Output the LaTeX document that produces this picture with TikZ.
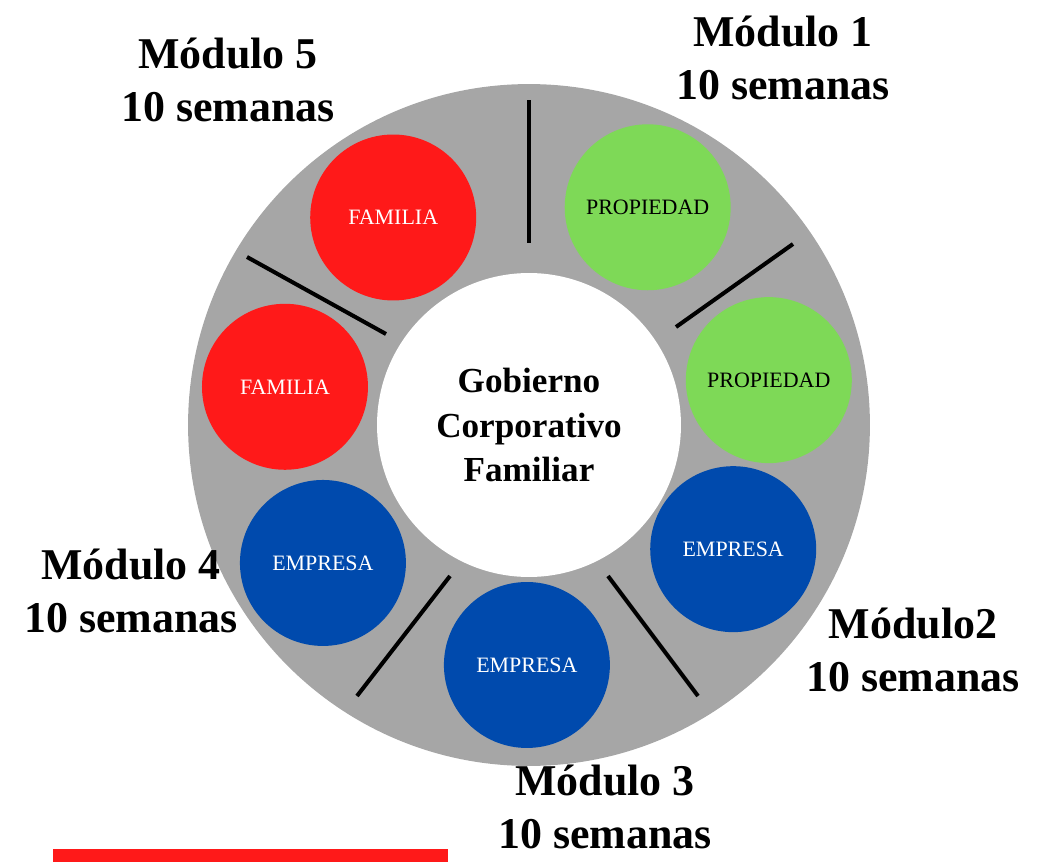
\documentclass[tikz,border=0pt]{standalone}
\usepackage{fontspec}
\setmainfont{Liberation Serif}
\usepackage{tikz}
\usetikzlibrary{positioning}
\usepackage{xcolor}

\definecolor{gris}{RGB}{166,166,166}
\definecolor{rojo}{RGB}{255,25,25}
\definecolor{verde}{RGB}{126,217,87}
\definecolor{azul}{RGB}{0,74,173}

\begin{document}
\begin{tikzpicture}[x=0.02cm,y=0.02cm,
 % circles of the ring
 modulo/.style={circle,minimum size=3.32cm,inner sep=0pt,font=\fontsize{12.5}{14}\selectfont},
 propiedad/.style={modulo,fill=verde,text=black},
 empresa/.style={modulo,fill=azul,text=white},
 familia/.style={modulo,fill=rojo,text=white},
 % module titles
 titulo/.style={align=center,inner sep=0pt,font=\bfseries\fontsize{25}{30}\selectfont},
 divisor/.style={line width=2.3pt,black}]

 % picture frame, same size as the reference
 \useasboundingbox (-529,-437) rectangle (515,425);

 % Gray ring and white centre
 \node[circle,fill=gris,minimum size=13.64cm,inner sep=0pt] (anillo) at (0,0) {};
 \node[circle,fill=white,minimum size=6.08cm,inner sep=0pt,align=center,
  font=\bfseries\fontsize{20}{25.5}\selectfont] (centro) at (0,0)
  {Gobierno\\Corporativo\\Familiar};

 % Separators between the modules
 \draw[divisor] (0,182) -- (0,325);
 \draw[divisor] (147,98) -- (264,181);
 \draw[divisor] (79,-151) -- (169,-271);
 \draw[divisor] (-79,-151) -- (-172,-271);
 \draw[divisor] (-143,91) -- (-282,168);

 % Circles, going round the ring
 \node[propiedad] (Prop1) at (61.4:248) {PROPIEDAD};
 \node[propiedad] (Prop2) at (10.6:244) {PROPIEDAD};
 \node[empresa] (Emp1) at (-31.3:239) {EMPRESA};
 \node[empresa] (Emp2) at (-90.5:240) {EMPRESA};
 \node[empresa] (Emp3) at (-146.2:248) {EMPRESA};
 \node[familia] (Fam1) at (171.1:247) {FAMILIA};
 \node[familia] (Fam2) at (123.2:248) {FAMILIA};

 % Module titles
 \node[titulo] (Mod1) at (254,367) {Módulo 1\\10 semanas};
 \node[titulo] (Mod2) at (384,-225) {Módulo2\\10 semanas};
 \node[titulo] (Mod3) at (76,-382) {Módulo 3\\10 semanas};
 \node[titulo] (Mod4) at (-398,-166) {Módulo 4\\10 semanas};
 \node[titulo] (Mod5) at (-301,345) {Módulo 5\\10 semanas};

 % red bar at the bottom edge
 \fill[rojo] (-476,-437) rectangle (-81,-424);

\end{tikzpicture}
\end{document}
